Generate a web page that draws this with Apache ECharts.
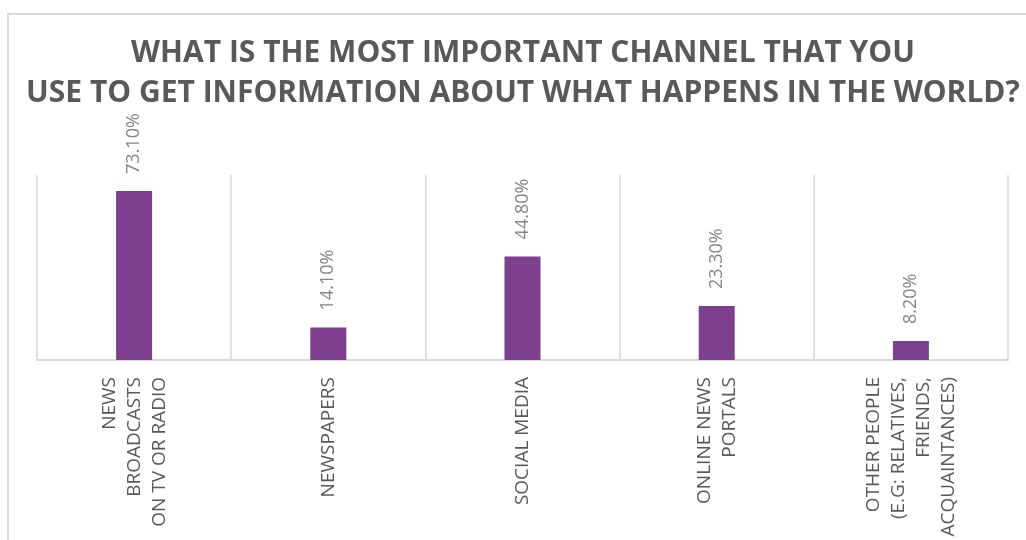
<!DOCTYPE html>
<html>
<head>
    <meta charset="UTF-8">
    <title>Channels</title>
    <script src="https://cdn.jsdelivr.net/npm/echarts@6.0.0/dist/echarts.min.js"></script>
    <style>
        html, body { margin: 0; padding: 0; background: #fff; }
        #chart { width: 1026px; height: 540px; }
    </style>
</head>
<body>
    <div id="chart"></div>
    <script>
        // categories and values
        var channels = [
            'NEWS\nBROADCASTS\nON TV OR RADIO',
            'NEWSPAPERS',
            'SOCIAL MEDIA',
            'ONLINE NEWS\nPORTALS',
            'OTHER PEOPLE\n(E.G: RELATIVES,\nFRIENDS,\nACQUAINTANCES)'
        ];
        var shares = [73.1, 14.1, 44.8, 23.3, 8.2];

        var chart = echarts.init(document.getElementById('chart'));
        var option = {
            backgroundColor: '#ffffff',
            animation: false,
            graphic: [{
                type: 'rect',
                shape: { x: 8, y: 14, width: 1100, height: 600 },
                style: { fill: 'none', stroke: '#d9d9d9', lineWidth: 2 },
                silent: true
            }],
            title: {
                text: 'WHAT IS THE MOST IMPORTANT CHANNEL THAT YOU\nUSE TO GET INFORMATION ABOUT WHAT HAPPENS IN THE WORLD?',
                left: 518,
                textAlign: 'center',
                top: 28,
                textStyle: {
                    fontFamily: 'Open Sans',
                    fontWeight: 'bold',
                    fontSize: 30,
                    lineHeight: 40,
                    color: '#595959'
                }
            },
            grid: { left: 37, right: 18, top: 175, bottom: 180 },
            xAxis: {
                type: 'category',
                data: channels,
                axisLine: { lineStyle: { color: '#d9d9d9', width: 2 } },
                axisTick: { show: false },
                splitLine: { show: true, lineStyle: { color: '#d9d9d9', width: 1.5 } },
                axisLabel: {
                    rotate: 90,
                    margin: 17,
                    interval: 0,
                    fontFamily: 'Open Sans',
                    fontSize: 19,
                    lineHeight: 25,
                    color: '#595959'
                }
            },
            yAxis: {
                type: 'value',
                min: 0,
                max: 80,
                show: false,
                splitLine: { show: false }
            },
            series: [{
                type: 'bar',
                data: shares,
                barWidth: 36,
                itemStyle: { color: '#7f3f8f' },
                label: {
                    show: true,
                    position: 'top',
                    rotate: 90,
                    align: 'left',
                    verticalAlign: 'middle',
                    distance: 17,
                    fontFamily: 'Open Sans',
                    fontSize: 18,
                    color: '#858585',
                    formatter: function (p) { return p.value.toFixed(2) + '%'; }
                }
            }]
        };
        chart.setOption(option);
    </script>
</body>
</html>
